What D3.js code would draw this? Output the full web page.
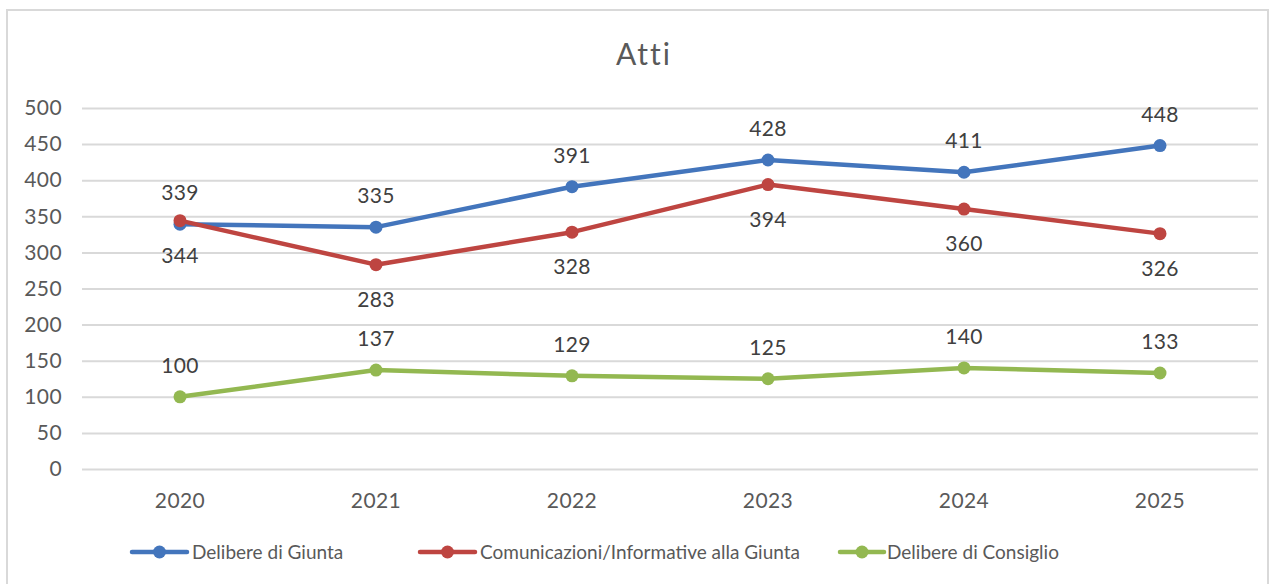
<!DOCTYPE html>
<html>
<head>
<meta charset="utf-8">
<script src="https://cdn.jsdelivr.net/npm/d3@7"></script>
<style>
  body { margin: 0; background: #fff; }
  text { font-family: Lato, "Open Sans", sans-serif; letter-spacing: 0.4px; }
</style>
</head>
<body>
<div id="chart"></div>
<script>
const years = ["2020", "2021", "2022", "2023", "2024", "2025"];
const delibereGiunta = [339, 335, 391, 428, 411, 448];
const comunicazioni = [344, 283, 328, 394, 360, 326];
const delibereConsiglio = [100, 137, 129, 125, 140, 133];
const yTicks = [0, 50, 100, 150, 200, 250, 300, 350, 400, 450, 500];

const series = [
  {name: "Delibere di Giunta", values: delibereGiunta, color: "#4375bc", labelPos: "above"},
  {name: "Comunicazioni/Informative alla Giunta", values: comunicazioni, color: "#be4541", labelPos: "below"},
  {name: "Delibere di Consiglio", values: delibereConsiglio, color: "#93b851", labelPos: "above"}
];

const width = 1273;
const height = 584;
const margin = {left: 82, right: 15, top: 108, bottom: 115};

let svg = d3.select("#chart")
  .append("svg")
  .attr("width", width)
  .attr("height", height);

// chart border
svg.append("rect")
  .attr("x", 7)
  .attr("y", 10)
  .attr("width", width - 12)
  .attr("height", height - 8)
  .attr("fill", "none")
  .attr("stroke", "#d9d9d9")
  .attr("stroke-width", 2);

svg.append("text")
  .attr("x", 644)
  .attr("y", 65)
  .attr("text-anchor", "middle")
  .attr("fill", "#595959")
  .style("font-size", "30px")
  .style("letter-spacing", "2px")
  .text("Atti");

let xScale = d3.scaleBand()
  .domain(years)
  .range([margin.left, width - margin.right]);

let yScale = d3.scaleLinear()
  .domain([0, 500])
  .range([height - margin.bottom, margin.top]);

// gridlines + y axis labels
let yAxis = svg.append("g")
  .attr("transform", "translate(" + margin.left + ",0)")
  .call(d3.axisLeft(yScale)
    .tickValues(yTicks)
    .tickSize(-(width - margin.left - margin.right))
    .tickPadding(20));
yAxis.select(".domain").remove();
yAxis.selectAll(".tick line")
  .attr("stroke", "#d9d9d9")
  .attr("stroke-width", 2);
yAxis.selectAll(".tick text")
  .attr("fill", "#595959")
  .style("font-size", "21px");

let xAxis = svg.append("g")
  .attr("transform", "translate(0," + (height - margin.bottom) + ")")
  .call(d3.axisBottom(xScale).tickSize(0).tickPadding(24));
xAxis.select(".domain").remove();
xAxis.selectAll(".tick text")
  .attr("fill", "#595959")
  .style("font-size", "21px");

let line = d3.line()
  .x((d, i) => xScale(years[i]) + xScale.bandwidth() / 2)
  .y(d => yScale(d));

series.forEach(s => {
  let g = svg.append("g");
  g.append("path")
    .attr("d", line(s.values))
    .attr("fill", "none")
    .attr("stroke", s.color)
    .attr("stroke-width", 4.5)
    .attr("stroke-linejoin", "round");
  g.selectAll("circle")
    .data(s.values)
    .enter()
    .append("circle")
    .attr("cx", (d, i) => xScale(years[i]) + xScale.bandwidth() / 2)
    .attr("cy", d => yScale(d))
    .attr("r", 6.5)
    .attr("fill", s.color);
  g.selectAll("text")
    .data(s.values)
    .enter()
    .append("text")
    .attr("x", (d, i) => xScale(years[i]) + xScale.bandwidth() / 2)
    .attr("y", d => yScale(d) + (s.labelPos === "above" ? -24 : 42))
    .attr("text-anchor", "middle")
    .attr("fill", "#404040")
    .style("font-size", "21px")
    .text(d => d);
});

// legend
const legendX = [132, 420, 840];
const legendY = 552;
series.forEach((s, i) => {
  let lg = svg.append("g")
    .attr("transform", "translate(" + legendX[i] + "," + legendY + ")");
  lg.append("line")
    .attr("x1", 0)
    .attr("x2", i === 2 ? 44 : 55)
    .attr("stroke", s.color)
    .attr("stroke-width", 4.5)
    .attr("stroke-linecap", "round");
  lg.append("circle")
    .attr("cx", i === 2 ? 22 : 27.5)
    .attr("r", 6.5)
    .attr("fill", s.color);
  lg.append("text")
    .attr("x", i === 2 ? 47 : 60)
    .attr("y", 7)
    .attr("fill", "#595959")
    .style("font-size", "19px")
    .style("letter-spacing", "0px")
    .text(s.name);
});
</script>
</body>
</html>
